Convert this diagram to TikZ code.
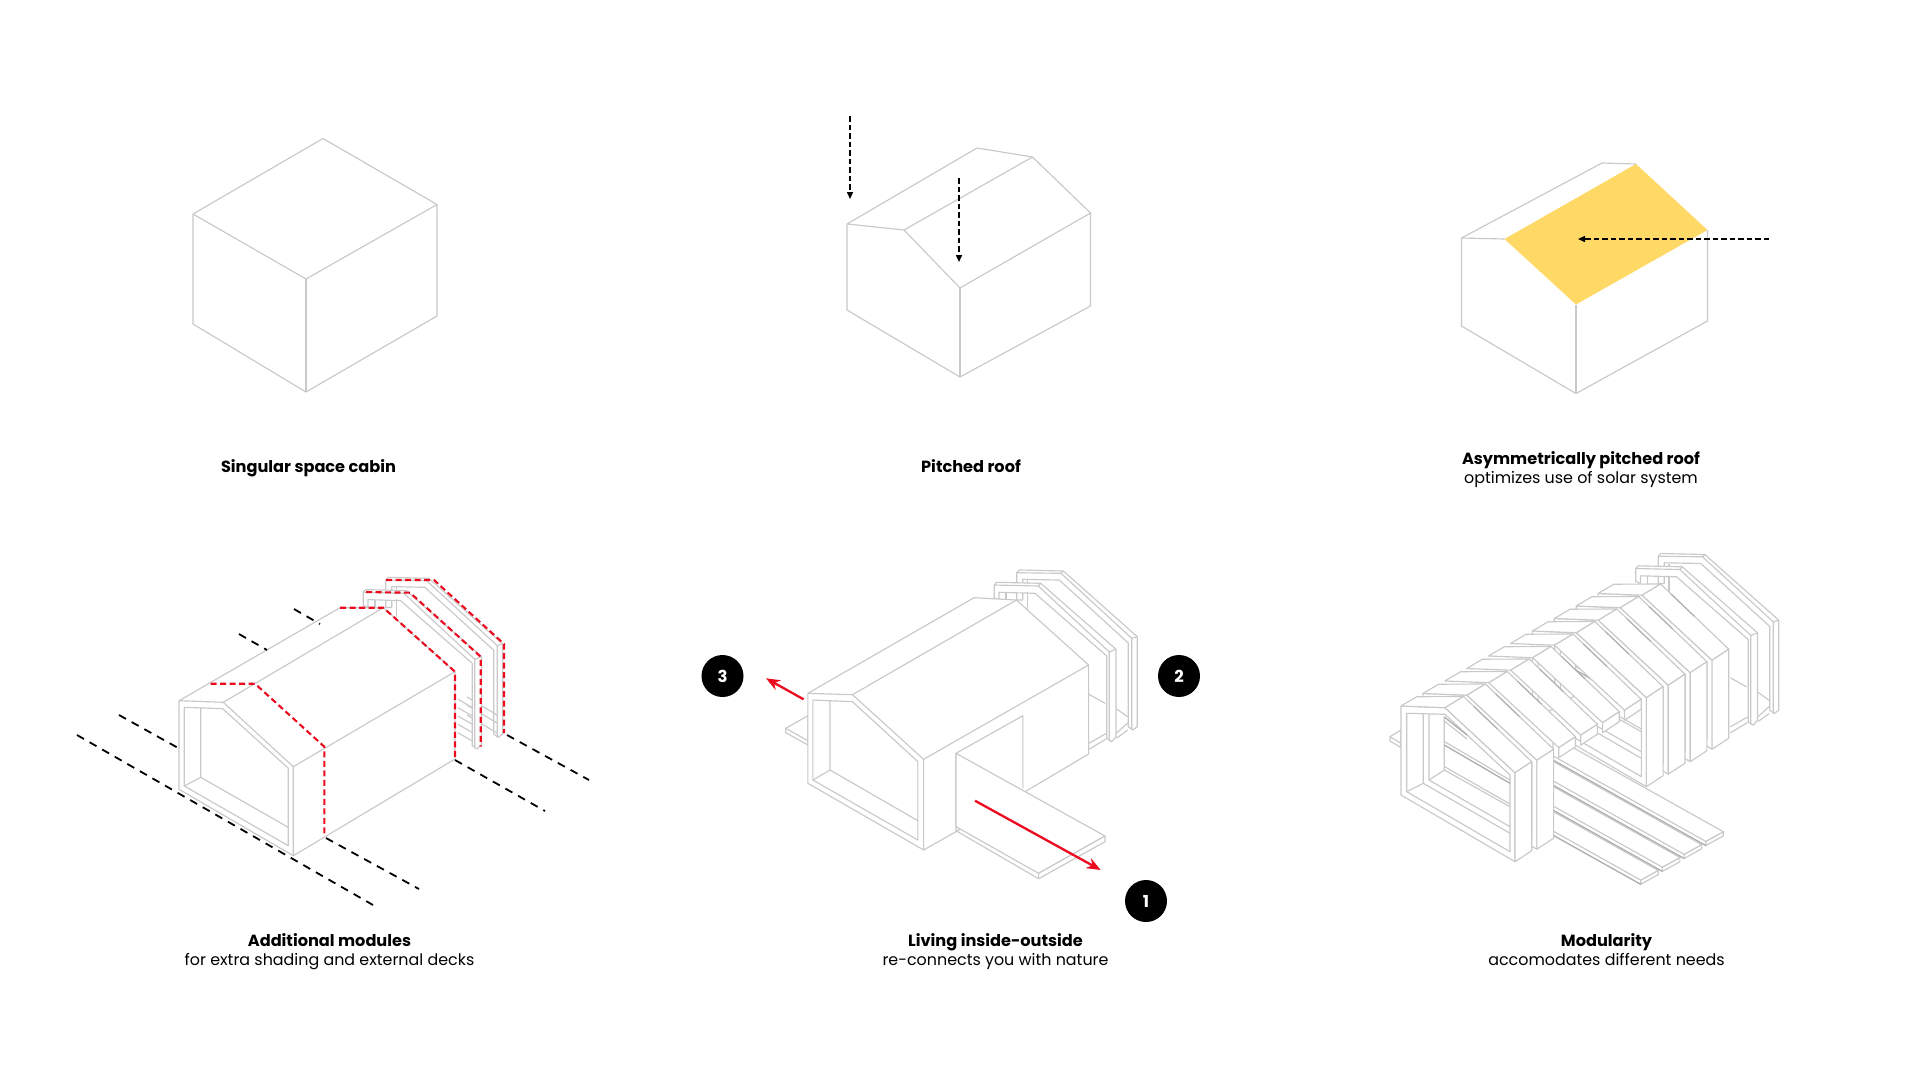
\documentclass[tikz,border=0pt]{standalone}
\usepackage{fontspec}
\setmainfont{Poppins}[UprightFont=*-Regular,BoldFont=*-Bold]
\usetikzlibrary{arrows.meta,calc}
\definecolor{lg}{HTML}{C9C9C9}
\definecolor{dg}{HTML}{ADADAD}
\definecolor{sun}{HTML}{FFD966}
\definecolor{rd}{HTML}{EB0A1E}
\tikzset{
 gl/.style={draw=lg,line width=1.15pt,line join=round},
 wf/.style={gl,fill=white},
 dgl/.style={draw=dg,line width=1.3pt},
 blk/.style={draw=black,line width=1.8pt,dash pattern=on 8pt off 6.5pt},
 blkarrow/.style={draw=black,line width=1.5pt,dash pattern=on 5.5pt off 3pt,-{Stealth[length=7pt,width=6pt,inset=0pt]}},
 redd/.style={draw=rd,line width=2.1pt,dash pattern=on 6pt off 3.5pt},
 redarrow/.style={draw=rd,line width=2.3pt,-{Stealth[length=14pt,width=11pt]}},
 head/.style={font=\fontsize{16.15}{19}\selectfont\bfseries,text=black,inner sep=0pt,text height=12pt,text depth=4pt,yshift=-2pt},
 sub/.style={font=\fontsize{15.9}{19}\selectfont,text=black,inner sep=0pt,text height=12pt,text depth=4pt,yshift=-1.5pt},
 badge/.style={circle,fill=black,minimum size=42pt,inner sep=0pt,text=white,font=\fontsize{16.5}{18}\selectfont\bfseries},
}
% back frames, given in the coordinates of panel 5; #1 moves the left end
\newcommand{\backframeB}[1]{%
 \path[wf] (1016.7+#1,585)--(1016.7+#1,572.7)--(1019.3+#1,570)--(1063.3,571)--(1137.3,636.7)--(1137.3,726.7)--(1132.7,730)--(1128.3,726.7)--(1128.3,643)--(1059.3,580)--(1022.7+#1,579.3)--(1022.7+#1,600)--(1016.7+#1,600)--cycle;
 \draw[gl] (1016.7+#1,572.7)--(1061,573.3)--(1131.7,638.3)--(1131.7,730);
 \draw[gl] (1061,573.3)--(1063.3,571) (1131.7,638.3)--(1137.3,636.7);
 \draw[gl] (1027.5+#1,580)--(1027.5+#1,610);
}
\newcommand{\backframeA}[1]{%
 \path[wf] (994.3+#1,598)--(994.3+#1,585)--(996.7+#1,582.3)--(1040.7,583.3)--(1116,649.3)--(1116,736.7)--(1111.7,741.7)--(1106.7,738.3)--(1106.7,656)--(1035,593.3)--(999+#1,592.3)--(999+#1,600)--cycle;
 \draw[gl] (994.3+#1,585)--(1038.3,586)--(1109.3,652)--(1109.3,741);
 \draw[gl] (1038.3,586)--(1040.7,583.3) (1109.3,652)--(1116,649.3);
 \draw[gl] (1006+#1,592.5)--(1006+#1,605) (1027.5+#1,592)--(1027.5+#1,610);
}
\newcommand{\floorlines}{%
 \draw[gl] (1089,694.3)--(1105,703.3) (1089,743.3)--(1106,733.5) (1089,749.3)--(1106,739);
 \draw[gl] (1116.7,709)--(1127.7,716.7) (1116.7,733)--(1127.7,723) (1116.7,738)--(1127.7,730);
}
% panel 6 rib pieces
\newcommand{\ribroof}[1]{%
 \path[wf] (1401,706)--(1416.7,696.7)--(1463.5,696.5)--(1445,707.7)--cycle;
 \path[wf] (1445,707.7)--(1463.5,696.5)--(1531.7,761.7)--(1515,772.7)--cycle;
 \path[wf] (1515,772.7)--(1531.7,761.7)--(1531.7,761.7+#1)--(1515,772.7+#1)--cycle;
 \draw[dgl,line width=1pt] (1473.7,706.3)--(1497.6,729.1);
}
\newcommand{\ribface}{%
 \path[wf] (1401,706)--(1445,707.7)--(1515,772.7)--(1515,861.7)--(1401,795)--cycle;
 \draw[gl] (1406.7,713.3)--(1445,714.3)--(1510,775)--(1510,851.7)--(1406.7,791.7)--cycle;
 \draw[gl] (1423.3,713.3)--(1423.3,783.3)--(1510,833.3);
 \draw[gl] (1406.7,791.7)--(1423.3,783.3);
 \draw[gl] (1429,714)--(1429,780)--(1510,826.7);
 \draw[gl] (1429,780)--(1444.3,770)--(1444.3,716.7);
 \draw[gl] (1444.3,770)--(1510,806.7) (1444.3,766.5)--(1510,804);
 \draw[dgl] (1444.3,745)--(1510,783.3);
 \draw[gl] (1444.3,741.5)--(1510,780);
 \draw[dgl] (1444.3,717)--(1467,735);
 \draw[gl] (1444.3,721)--(1467,739);
}
% one deck plank: #1 its number counted from the right
\newcommand{\plank}[1]{%
 \begin{scope}[shift={(#1*-21.7,#1*12.9)}]
 \path[wf] (1723.3,831.7)--(1705.8,841.4)--(1705.8,845.6)--(1723.3,835.9)--cycle;
 \path[wf] (1723.3,831.7)--(1705.8,841.4)--({1553+#1*21.7},{841.4-(1705.8-1553-#1*21.7)*0.56})--({1553+#1*21.7},{831.7-(1723.3-1553-#1*21.7)*0.56})--cycle;
 \draw[dgl] (1705.8,845.6)--({1553+#1*21.7},{845.6-(1705.8-1553-#1*21.7)*0.56});
 \end{scope}
}
\begin{document}
\begin{tikzpicture}[x=1pt,y=-1pt]
\useasboundingbox[fill=white] (0,0) rectangle (1920,1080);

% ---------- Panel 1
\draw[gl] (323,138.5)--(193,214)--(306,279)--(437,204.5)--cycle;
\draw[gl] (193,214)--(193,324)--(306,392)--(437,316)--(437,204.5);
\draw[gl] (306,279)--(306,392);
\node[head] (t1) at (308.5,466.5) {Singular space cabin};

% ---------- Panel 2
\draw[gl] (847,224)--(977,148)--(1032.5,157)--(904,230)--cycle;
\draw[gl] (1032.5,157)--(1090.5,213)--(960,288)--(904,230);
\draw[gl] (847,224)--(847,310)--(960,377)--(1090.5,306)--(1090.5,213);
\draw[gl] (960,288)--(960,377);
\coordinate (a1s) at (850,116); \coordinate (a1e) at (850,199);
\coordinate (a2s) at (959,178); \coordinate (a2e) at (959,262);
\draw[blkarrow] (a1s)--(a1e);
\draw[blkarrow] (a2s)--(a2e);
\node[head] (t2) at (971,466.5) {Pitched roof};

% ---------- Panel 3
\fill[sun] (1504.5,239)--(1636,164)--(1707.5,230)--(1576,304.5)--cycle;
\draw[gl] (1461.5,238)--(1602,163)--(1636,164);
\draw[gl] (1461.5,238)--(1504.5,239);
\draw[gl] (1461.5,238)--(1461.5,326)--(1576,393.5)--(1707.5,321)--(1707.5,230);
\draw[gl] (1576,304.5)--(1576,393.5);
\coordinate (a3s) at (1769,239); \coordinate (a3e) at (1578,239);
\draw[blkarrow] (a3s)--(a3e);
\node[head] (t3) at (1581,458) {Asymmetrically pitched roof};
\node[sub] (s3) at (1581,477.5) {optimizes use of solar system};

% ---------- Panel 4
\begin{scope}[shift={(-634.5,7.3)}]
 \backframeB{3.5}
\end{scope}
\draw[gl] (467,697)--(497,715) (467,705)--(497,723) (467,715)--(497,733);
\begin{scope}[shift={(-634.5,7.3)}]
 \backframeA{3.5}
\end{scope}
\foreach \yy in {699.3,707.7,716,724.3,732.7} \draw[gl] (458,\yy)--(473,\yy+8.7);
% house
\path[wf] (179,700.7)--(340,607.7)--(383.3,607.7)--(455,671.7)--(455,759)--(293.3,855.7)--(179,789.3)--cycle;
\draw[gl] (179,700.7)--(223.3,702.3)--(293.3,766.7)--(293.3,855.7);
\draw[gl] (223.3,702.3)--(383.3,607.7);
\draw[gl] (293.3,766.7)--(455,671.7);
\draw[gl] (184.3,707.3)--(222.7,708.7)--(288.3,768.3)--(288.3,845.7)--(184.3,786)--cycle;
\draw[gl] (200.7,707.3)--(200.7,777.3)--(288.3,827.3);
\draw[gl] (184.3,786)--(200.7,777.3);
% dashes
\draw[blk] (77,735)--(373,905);
\draw[blk] (119,715)--(180,749);
\draw[blk] (239,634)--(267,650);
\draw[blk] (294,609)--(320,624);
\draw[blk] (326,838)--(419,889);
\draw[blk] (455,760)--(545,811);
\draw[blk] (507,735)--(589,780);
% red cuts
\draw[redd] (210.7,683.7)--(255,683.7)--(324.3,746.7)--(324.3,835.7);
\draw[redd] (340,607.7)--(383.3,607.7)--(455,671.7)--(455,759);
\draw[redd] (366,592)--(410,592.7)--(480.7,656.7)--(480.7,746.7);
\draw[redd] (386,580)--(434,580)--(504,644)--(504,733);
\node[head] (t4) at (329.5,940.5) {Additional modules};
\node[sub] (s4) at (329.5,960) {for extra shading and external decks};

% ---------- Panel 5
\backframeB{0}
\floorlines
\backframeA{0}
% left deck
\path[wf] (807.9,715.7)--(785.7,728.3)--(785.7,732.7)--(807.9,745)--cycle;
\draw[gl] (785.7,728.3)--(807.9,740.7);
% house
\path[wf] (807.9,693.3)--(974,597.7)--(1016.4,600)--(1088.6,665)--(1088.6,754)--(1026.8,790.7)--(956,831.7)--(923.6,850)--(807.9,783.3)--cycle;
\draw[gl] (807.9,693.3)--(852.5,694.7)--(923.6,759.3)--(923.6,850);
\draw[gl] (852.5,694.7)--(1016.4,600);
\draw[gl] (923.6,759.3)--(1088.6,665);
\draw[gl] (812.9,700)--(852.5,701.7)--(917.9,761.7)--(917.9,840)--(812.9,780)--cycle;
\draw[gl] (830,700.7)--(830,770)--(917.9,820.7);
\draw[gl] (812.9,780)--(830,770);
% recess and deck
\draw[gl] (956,831.7)--(956,753.3)--(1022.9,715.7)--(1022.9,788.3);
\path[wf] (956,753.3)--(1105,836)--(1038.6,873.3)--(956,826.7)--cycle;
\path[wf] (1105,836)--(1105,841.7)--(1038.6,878.7)--(1038.6,873.3)--cycle;
\draw[gl] (956,830.7)--(1038.6,878.7);
\coordinate (r1s) at (975,800.7); \coordinate (r1e) at (1100.7,870);
\coordinate (r3s) at (803.6,699.3); \coordinate (r3e) at (766,678.3);
\draw[redarrow] (r1s)--(r1e);
\draw[redarrow] (r3s)--(r3e);
\node[badge] (c3) at (722.5,676) {3};
\node[badge] (c2) at (1179,676) {2};
\node[badge] (c1) at (1146,901) {1};
\node[head] (t5) at (995.5,940.5) {Living inside-outside};
\node[sub] (s5) at (995.5,960) {re-connects you with nature};

% ---------- Panel 6
\begin{scope}[shift={(641.5,-16.5)}]
 \backframeB{0}
 \floorlines
 \backframeA{0}
\end{scope}
% left deck
\path[wf] (1401,730)--(1390,736.7)--(1390,741)--(1401,747.5)--cycle;
\draw[gl] (1390,736.7)--(1401,743.3);
% tall ribs at the back
\foreach \k in {9,8,7,6}{
 \begin{scope}[shift={(\k*21.9,\k*-12.5)}] \ribface \ribroof{89} \end{scope}
}
% planks
\plank{0}\plank{1}\plank{2}\plank{3}
% short ribs
\foreach \k in {5,4,3,2}{
 \begin{scope}[shift={(\k*21.9,\k*-12.5)}] \ribroof{10} \end{scope}
}
% tall ribs at the front
\begin{scope}[shift={(21.9,-12.5)}] \ribface \ribroof{89} \end{scope}
\ribface \ribroof{89}
\node[head] (t6) at (1606.5,940.5) {Modularity};
\node[sub] (s6) at (1606.5,960) {accomodates different needs};
\end{tikzpicture}
\end{document}
